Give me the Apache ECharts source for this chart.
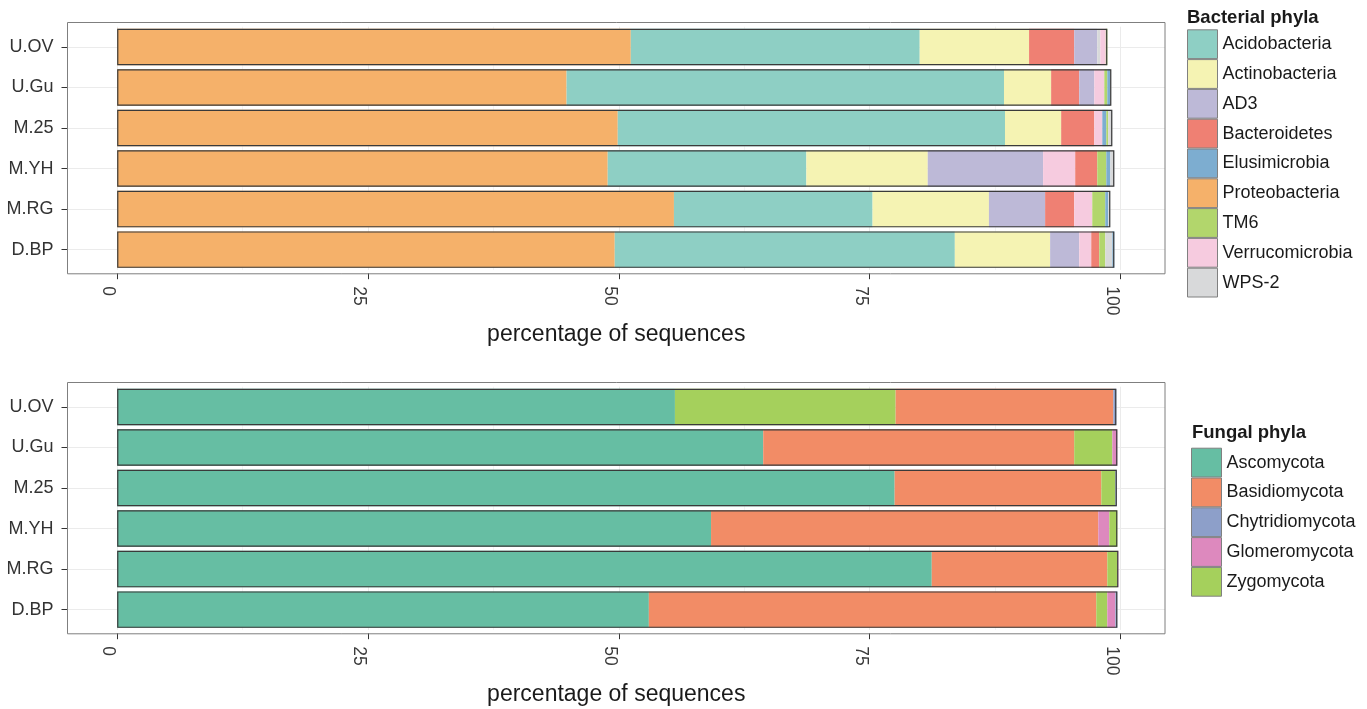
<!DOCTYPE html>
<html><head><meta charset="utf-8">
<script src="https://cdn.jsdelivr.net/npm/echarts@6/dist/echarts.min.js"></script>
<style>html,body{margin:0;padding:0;background:#fff}#c{width:1367px;height:709px}</style>
</head><body><div id="c"></div>
<script>
// ---------- data ----------
const samples = ['U.OV', 'U.Gu', 'M.25', 'M.YH', 'M.RG', 'D.BP'];
const xTicks = [0, 25, 50, 75, 100];
const xMinorTicks = [12.5, 37.5, 62.5, 87.5];

const bacPhyla = ['Acidobacteria', 'Actinobacteria', 'AD3', 'Bacteroidetes', 'Elusimicrobia',
                  'Proteobacteria', 'TM6', 'Verrucomicrobia', 'WPS-2'];
const bacColors = ['#8ECFC4', '#F5F3B3', '#BDB9D7', '#EF8073', '#7DADD0',
                   '#F5B16A', '#B2D66C', '#F6CBDF', '#D8D9DA'];
const acidobacteria   = [28.8, 43.6, 38.6, 19.8, 19.8, 33.9];
const actinobacteria  = [10.9, 4.7, 5.6, 12.1, 11.6, 9.5];
const ad3             = [2.3, 1.5, 0.0, 11.5, 5.6, 2.9];
const bacteroidetes   = [4.5, 2.8, 3.3, 2.2, 2.9, 0.8];
const elusimicrobia   = [0.0, 0.3, 0.4, 0.4, 0.3, 0.2];
const proteobacteria  = [51.2, 44.8, 49.9, 48.9, 55.5, 49.6];
const tm6             = [0.15, 0.3, 0.2, 0.9, 1.3, 0.6];
const verrucomicrobia = [0.55, 1.0, 0.8, 3.2, 1.8, 1.2];
const wps2            = [0.3, 0.1, 0.4, 0.4, 0.2, 0.7];
// stacking order (left to right) in each sample, as drawn in the figure
const bacOrderUOV = ['Proteobacteria','Acidobacteria','Actinobacteria','Bacteroidetes','AD3','WPS-2','Verrucomicrobia','TM6'];
const bacOrderUGu = ['Proteobacteria','Acidobacteria','Actinobacteria','Bacteroidetes','AD3','Verrucomicrobia','TM6','Elusimicrobia','WPS-2'];
const bacOrderM25 = ['Proteobacteria','Acidobacteria','Actinobacteria','Bacteroidetes','Verrucomicrobia','Elusimicrobia','TM6','WPS-2'];
const bacOrderMYH = ['Proteobacteria','Acidobacteria','Actinobacteria','AD3','Verrucomicrobia','Bacteroidetes','TM6','Elusimicrobia','WPS-2'];
const bacOrderMRG = ['Proteobacteria','Acidobacteria','Actinobacteria','AD3','Bacteroidetes','Verrucomicrobia','TM6','Elusimicrobia','WPS-2'];
const bacOrderDBP = ['Proteobacteria','Acidobacteria','Actinobacteria','AD3','Verrucomicrobia','Bacteroidetes','TM6','WPS-2','Elusimicrobia'];

const fungPhyla = ['Ascomycota', 'Basidiomycota', 'Chytridiomycota', 'Glomeromycota', 'Zygomycota'];
const fungColors = ['#66BEA3', '#F28C66', '#8D9FC9', '#DD89BE', '#A5D05C'];
const ascomycota      = [55.6, 64.4, 77.5, 59.2, 81.2, 53.0];
const basidiomycota   = [21.7, 31.0, 20.6, 38.6, 17.5, 44.6];
const chytridiomycota = [0.3, 0.0, 0.15, 0.0, 0.0, 0.2];
const glomeromycota   = [0.0, 0.5, 0.0, 1.1, 0.1, 0.8];
const zygomycota      = [22.0, 3.8, 1.4, 0.8, 1.0, 1.1];
const fungOrderUOV = ['Ascomycota','Zygomycota','Basidiomycota','Chytridiomycota'];
const fungOrderUGu = ['Ascomycota','Basidiomycota','Zygomycota','Glomeromycota'];
const fungOrderM25 = ['Ascomycota','Basidiomycota','Zygomycota','Chytridiomycota'];
const fungOrderMYH = ['Ascomycota','Basidiomycota','Glomeromycota','Zygomycota'];
const fungOrderMRG = ['Ascomycota','Basidiomycota','Zygomycota','Glomeromycota'];
const fungOrderDBP = ['Ascomycota','Basidiomycota','Zygomycota','Glomeromycota','Chytridiomycota'];

// ---------- build ----------
const FONT = '"Liberation Sans", Arial, Helvetica, sans-serif';
const bacValues = [acidobacteria, actinobacteria, ad3, bacteroidetes, elusimicrobia,
                   proteobacteria, tm6, verrucomicrobia, wps2];
const bacOrder = [bacOrderUOV, bacOrderUGu, bacOrderM25, bacOrderMYH, bacOrderMRG, bacOrderDBP];
const fungValues = [ascomycota, basidiomycota, chytridiomycota, glomeromycota, zygomycota];
const fungOrder = [fungOrderUOV, fungOrderUGu, fungOrderM25, fungOrderMYH, fungOrderMRG, fungOrderDBP];

function panelSeries(idx, phyla, colors, values, order, stackId) {
  const out = [];
  const lines = xMinorTicks.map(v => ({xAxis: v, lineStyle: {color: '#F4F4F4', width: 1, type: 'solid'}}))
    .concat(xTicks.map(v => ({xAxis: v, lineStyle: {color: '#EBEBEB', width: 1, type: 'solid'}})))
    .concat(samples.map(s => ({yAxis: s, lineStyle: {color: '#EBEBEB', width: 1, type: 'solid'}})));
  out.push({
    type: 'line', xAxisIndex: idx, yAxisIndex: idx, data: [], silent: true, z: 0,
    markLine: {silent: true, z: 0, zlevel: 0, symbol: 'none', label: {show: false}, animation: false, data: lines}
  });
  // legend-only series (one per phylum)
  phyla.forEach((p, pi) => {
    out.push({type: 'bar', name: p, stack: stackId, xAxisIndex: idx, yAxisIndex: idx, data: [],
      barWidth: '90%', barGap: '-100%', itemStyle: {color: colors[pi]}});
  });
  // stacked segments, by position in the per-sample order
  const maxLen = Math.max(...order.map(o => o.length));
  for (let k = 0; k < maxLen; k++) {
    out.push({
      type: 'bar', stack: stackId, xAxisIndex: idx, yAxisIndex: idx, z: 6,
      barWidth: '90%', barGap: '-100%', silent: true,
      data: samples.map((s, i) => {
        const p = order[i][k];
        if (p === undefined) return {value: 0, itemStyle: {color: 'rgba(0,0,0,0)'}};
        const pi = phyla.indexOf(p);
        return {value: values[pi][i], itemStyle: {color: colors[pi]}};
      })
    });
  }
  // outline of each whole bar
  const totals = samples.map((s, i) => order[i].reduce((a, p) => a + values[phyla.indexOf(p)][i], 0));
  out.push({
    type: 'bar', xAxisIndex: idx, yAxisIndex: idx, z: 8, silent: true,
    barWidth: '90%', barGap: '-100%', data: totals,
    itemStyle: {color: 'rgba(0,0,0,0)', borderColor: '#3a3a3a', borderWidth: 1.2}
  });
  return out;
}

function xAxisCfg(idx) {
  return {
    gridIndex: idx, type: 'value', min: -4.95, max: 104.45, offset: 3.3,
    name: 'percentage of sequences', nameLocation: 'middle', nameGap: 50, nameMoveOverlap: false,
    nameTextStyle: {fontSize: 23, color: '#1a1a1a', fontFamily: FONT},
    axisLine: {show: false, onZero: false}, splitLine: {show: false},
    axisTick: {show: true, length: 6, customValues: xTicks, lineStyle: {color: '#333', width: 1}},
    axisLabel: {customValues: xTicks, rotate: -90, margin: 13, fontSize: 17.5, color: '#3a3a3a',
      fontFamily: FONT, verticalAlign: 'top'}
  };
}
function yAxisCfg(idx) {
  return {
    gridIndex: idx, type: 'category', data: samples, inverse: true, position: 'left',
    axisLine: {show: false, onZero: false}, splitLine: {show: false},
    axisTick: {show: true, length: 6, alignWithLabel: true, interval: 0, lineStyle: {color: '#333', width: 1}},
    axisLabel: {interval: 0, fontSize: 18, color: '#333', margin: 14, fontFamily: FONT}
  };
}
function legendCfg(names, left, top) {
  return {
    data: names, orient: 'vertical', left: left, top: top, icon: 'rect',
    itemWidth: 30, itemHeight: 28.8, itemGap: 0, selectedMode: false, padding: 0,
    itemStyle: {borderColor: '#808080', borderWidth: 1},
    textStyle: {fontSize: 18, color: '#1a1a1a', fontFamily: FONT}
  };
}

const panelLeft = 67.5, panelW = 1097.5, panelH = 251.3;
const option = {
  animation: false,
  backgroundColor: '#ffffff',
  textStyle: {fontFamily: FONT},
  title: [
    {text: 'Bacterial phyla', left: 1187, top: 8, padding: 0,
     textStyle: {fontSize: 18.5, fontWeight: 'bold', color: '#1a1a1a', fontFamily: FONT}},
    {text: 'Fungal phyla', left: 1192, top: 423.5, padding: 0,
     textStyle: {fontSize: 18.5, fontWeight: 'bold', color: '#1a1a1a', fontFamily: FONT}}
  ],
  legend: [legendCfg(bacPhyla, 1187, 29.3), legendCfg(fungPhyla, 1191, 447.7)],
  grid: [
    {left: panelLeft, width: panelW, top: 26.7, height: 243.2, containLabel: false},
    {left: panelLeft, width: panelW, top: 386.7, height: 243.2, containLabel: false}
  ],
  xAxis: [xAxisCfg(0), xAxisCfg(1)],
  yAxis: [yAxisCfg(0), yAxisCfg(1)],
  graphic: [
    {type: 'rect', z: 100, silent: true, shape: {x: panelLeft, y: 22.5, width: panelW, height: panelH},
     style: {fill: 'none', stroke: '#7F7F7F', lineWidth: 1}},
    {type: 'rect', z: 100, silent: true, shape: {x: panelLeft, y: 382.5, width: panelW, height: panelH},
     style: {fill: 'none', stroke: '#7F7F7F', lineWidth: 1}}
  ],
  series: panelSeries(0, bacPhyla, bacColors, bacValues, bacOrder, 'bac')
    .concat(panelSeries(1, fungPhyla, fungColors, fungValues, fungOrder, 'fung'))
};

const chart = echarts.init(document.getElementById('c'), null, {renderer: 'canvas'});
chart.setOption(option);
</script>
</body></html>
